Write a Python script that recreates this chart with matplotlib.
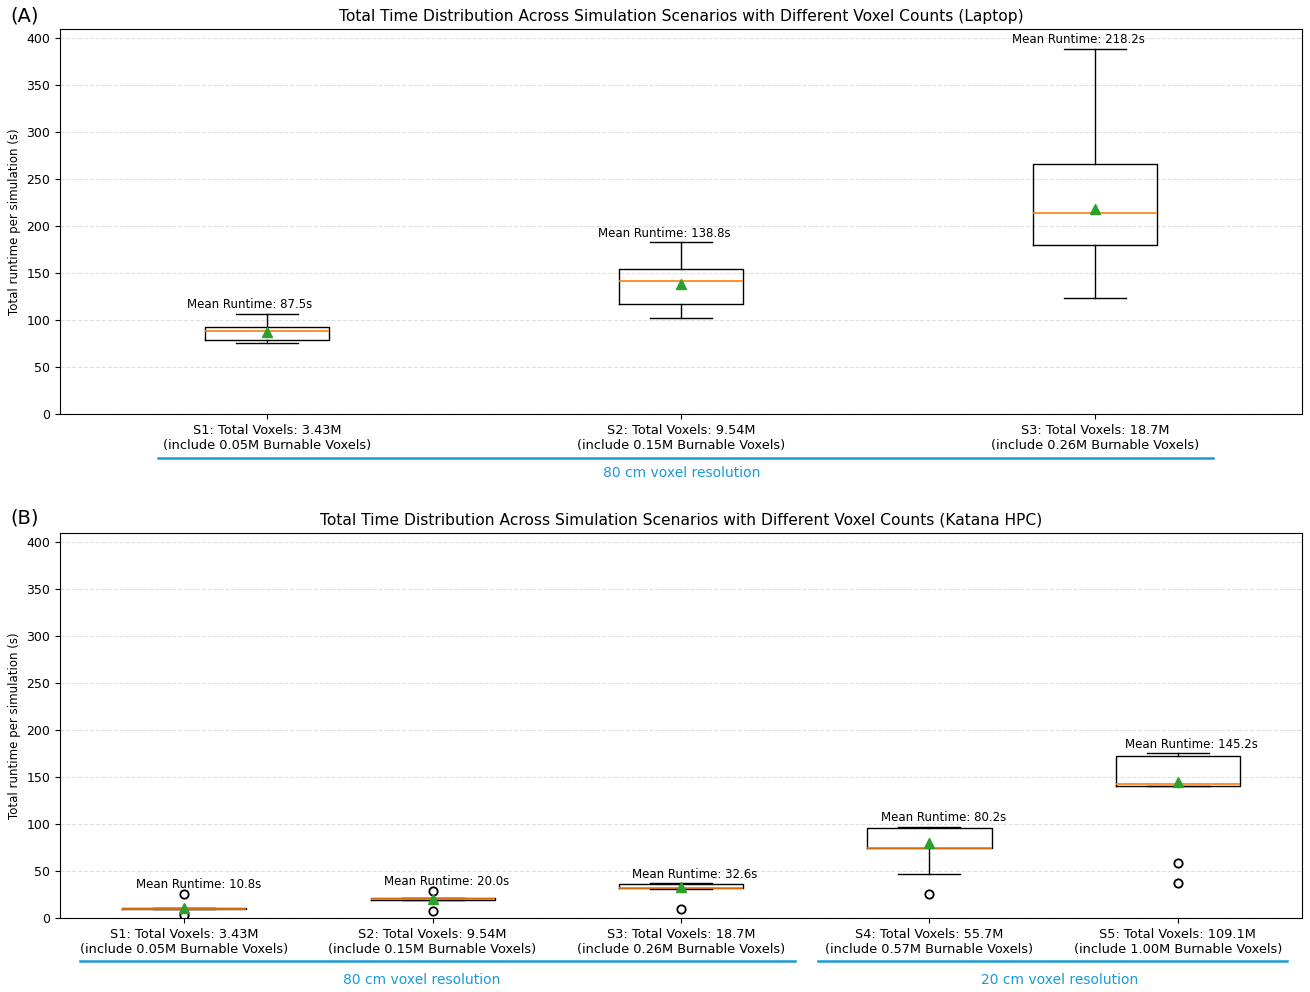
import matplotlib
matplotlib.use("Agg")
import matplotlib.pyplot as plt
from matplotlib.transforms import offset_copy

# ---------------- data ----------------
laptop_labels = ["S1: Total Voxels: 3.43M\n(include 0.05M Burnable Voxels)",
                 "S2: Total Voxels: 9.54M\n(include 0.15M Burnable Voxels)",
                 "S3: Total Voxels: 18.7M\n(include 0.26M Burnable Voxels)"]
laptop_whislo = [75.4, 102.4, 123.4]
laptop_q1 = [79.0, 116.6, 179.9]
laptop_med = [88.2, 141.9, 214.4]
laptop_q3 = [93.1, 154.0, 266.3]
laptop_whishi = [106.7, 182.7, 388.6]
laptop_mean = [87.5, 138.8, 218.2]
laptop_fliers = [[], [], []]

hpc_labels = ["S1: Total Voxels: 3.43M\n(include 0.05M Burnable Voxels)",
              "S2: Total Voxels: 9.54M\n(include 0.15M Burnable Voxels)",
              "S3: Total Voxels: 18.7M\n(include 0.26M Burnable Voxels)",
              "S4: Total Voxels: 55.7M\n(include 0.57M Burnable Voxels)",
              "S5: Total Voxels: 109.1M\n(include 1.00M Burnable Voxels)"]
hpc_whislo = [9.6, 18.8, 30.8, 47.3, 140.5]
hpc_q1 = [9.5, 19.5, 31.6, 75.0, 141.0]
hpc_med = [10.0, 20.3, 32.3, 75.0, 142.5]
hpc_q3 = [10.6, 21.6, 36.3, 95.6, 172.5]
hpc_whishi = [10.4, 21.0, 36.8, 96.8, 175.3]
hpc_mean = [10.8, 20.0, 32.6, 80.2, 145.2]
hpc_fliers = [[25.5, 3.6], [29.0, 7.6], [9.3], [25.6], [59.0, 36.8]]

titles = ["Total Time Distribution Across Simulation Scenarios with Different Voxel Counts (Laptop)",
          "Total Time Distribution Across Simulation Scenarios with Different Voxel Counts (Katana HPC)"]
panel_tags = ["(A)", "(B)"]
ylabel = "Total runtime per simulation (s)"
yticks = [0, 50, 100, 150, 200, 250, 300, 350, 400]
group_a = ["80 cm voxel resolution"]
group_b = ["80 cm voxel resolution", "20 cm voxel resolution"]

BLUE = "#1a9ad6"

fig = plt.figure(figsize=(13.10, 9.92), dpi=100)
axA = fig.add_axes([0.0458, 0.5827, 0.9481, 0.3881])
axB = fig.add_axes([0.0458, 0.0746, 0.9481, 0.3881])


def make_stats(lo, q1, med, q3, hi, mean, fl):
    out = []
    for i in range(len(lo)):
        out.append(dict(whislo=lo[i], q1=q1[i], med=med[i], q3=q3[i],
                        whishi=hi[i], mean=mean[i], fliers=fl[i]))
    return out


def draw(ax, stats, labels, width, title, tag_y, tag, text_dx):
    n = len(stats)
    pos = list(range(1, n + 1))
    ax.bxp(stats, positions=pos, widths=width, showmeans=True,
           meanprops=dict(marker="^", markerfacecolor="#2ca02c",
                          markeredgecolor="#2ca02c", markersize=7),
           medianprops=dict(color="#ff7f0e", linewidth=1.2),
           flierprops=dict(marker="o", markerfacecolor="none",
                           markeredgecolor="black", markersize=6,
                           markeredgewidth=1.3))
    tr = offset_copy(ax.transData, fig=fig, x=text_dx, y=0, units="dots")
    for p, s in zip(pos, stats):
        top = max([s["whishi"], s["q3"]] + list(s["fliers"]))
        ax.text(p, top + 3, f"Mean Runtime: {s['mean']:.1f}s",
                ha="center", va="bottom", fontsize=8.5, transform=tr)
    ax.set_xlim(0.5, n + 0.5)
    ax.set_ylim(0, 410)
    ax.set_yticks(yticks)
    ax.set_xticks(pos)
    ax.set_xticklabels(labels, fontsize=9.3)
    ax.tick_params(axis="y", labelsize=9)
    ax.set_ylabel(ylabel, fontsize=8.5)
    ax.yaxis.set_label_coords(-0.031, 0.5)
    ax.yaxis.grid(True, linestyle="--", color="0.88", linewidth=0.8)
    ax.set_axisbelow(True)
    ax.set_title(title, fontsize=11.2, pad=6)
    fig.text(0.0076, tag_y, tag, fontsize=14, ha="left", va="center")


draw(axA, make_stats(laptop_whislo, laptop_q1, laptop_med, laptop_q3,
                     laptop_whishi, laptop_mean, laptop_fliers),
     laptop_labels, 0.3, titles[0], 1 - 16 / 992, panel_tags[0], -17)
draw(axB, make_stats(hpc_whislo, hpc_q1, hpc_med, hpc_q3,
                     hpc_whishi, hpc_mean, hpc_fliers),
     hpc_labels, 0.5, titles[1], 1 - 518 / 992, panel_tags[1], 14)

# group brackets (lines + captions) in figure coordinates
W, H = 1310.0, 992.0
fig.add_artist(plt.Line2D([158 / W, 1213 / W], [1 - 458 / H] * 2, color=BLUE, lw=1.8))
fig.text(682 / W, 1 - 473 / H, group_a[0], color=BLUE, fontsize=10, ha="center", va="center")
fig.add_artist(plt.Line2D([80 / W, 795 / W], [1 - 961 / H] * 2, color=BLUE, lw=1.8))
fig.text(422 / W, 1 - 980 / H, group_b[0], color=BLUE, fontsize=10, ha="center", va="center")
fig.add_artist(plt.Line2D([818 / W, 1287 / W], [1 - 961 / H] * 2, color=BLUE, lw=1.8))
fig.text(1060 / W, 1 - 980 / H, group_b[1], color=BLUE, fontsize=10, ha="center", va="center")

fig.savefig("out.png", dpi=100)
